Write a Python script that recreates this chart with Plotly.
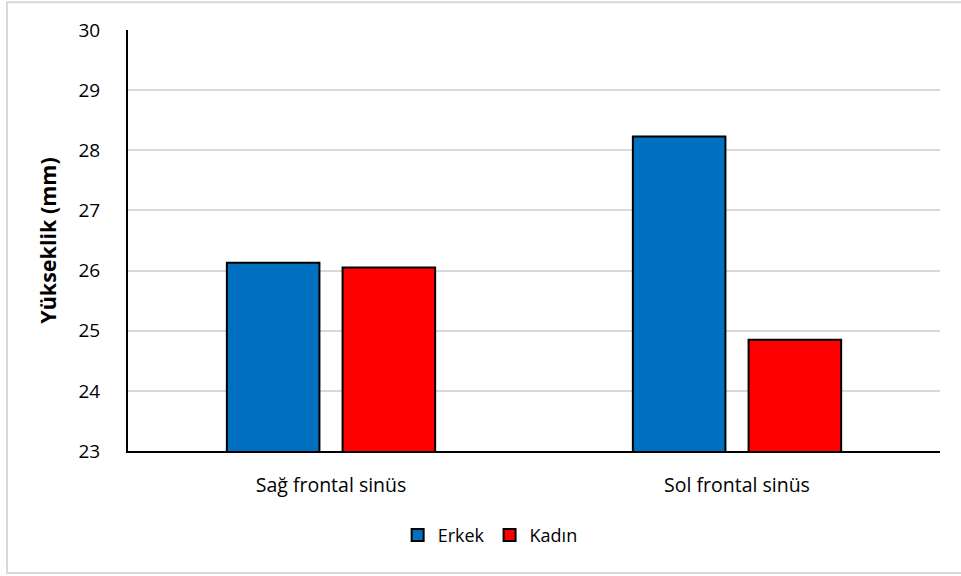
import plotly.graph_objects as go

# Frontal sinus height by side and sex
categories = ["Sağ frontal sinüs", "Sol frontal sinüs"]
erkek = [26.13, 28.23]
kadin = [26.05, 24.85]
y_ticks = [23, 24, 25, 26, 27, 28, 29, 30]

FONT = "'Open Sans', sans-serif"

fig = go.Figure()
fig.add_trace(go.Bar(
    name="Erkek", x=categories, y=erkek,
    marker=dict(color="#0070C0", line=dict(color="#000000", width=2)),
))
fig.add_trace(go.Bar(
    name="Kadın", x=categories, y=kadin,
    marker=dict(color="#FF0000", line=dict(color="#000000", width=2)),
))

# light outer frame around the whole chart
fig.add_shape(
    type="rect", xref="paper", yref="paper",
    x0=-0.149, x1=1.03, y0=-0.29, y1=1.066,
    line=dict(color="#d9d9d9", width=2), fillcolor="rgba(0,0,0,0)", layer="below",
)

fig.update_layout(
    width=961, height=576,
    margin=dict(l=128, r=21, t=30, b=125),
    paper_bgcolor="white", plot_bgcolor="white",
    barmode="group", bargap=0.43, bargroupgap=0.2,
    font=dict(family=FONT, size=19, color="#000000"),
    showlegend=True,
    legend=dict(
        orientation="h", x=0.446, xanchor="center", y=-0.2, yanchor="middle",
        font=dict(family=FONT, size=18, color="#000000"),
        itemwidth=30, tracegroupgap=0,
    ),
    xaxis=dict(
        showline=True, linecolor="#000000", linewidth=2,
        showgrid=False, ticks="", ticklabelstandoff=16,
        tickfont=dict(family=FONT, size=19.5, color="#000000"),
    ),
    yaxis=dict(
        range=[23, 30], tickvals=y_ticks,
        showline=True, linecolor="#000000", linewidth=2,
        showgrid=True, gridcolor="#d9d9d9", gridwidth=2,
        zeroline=False, ticks="", ticklabelstandoff=22,
        tickfont=dict(family=FONT, size=19, color="#000000"),
        title=dict(text="<b>Yükseklik (mm)</b>", standoff=16,
                   font=dict(family=FONT, size=21.5, color="#000000")),
    ),
)

fig.write_html("out.html")
